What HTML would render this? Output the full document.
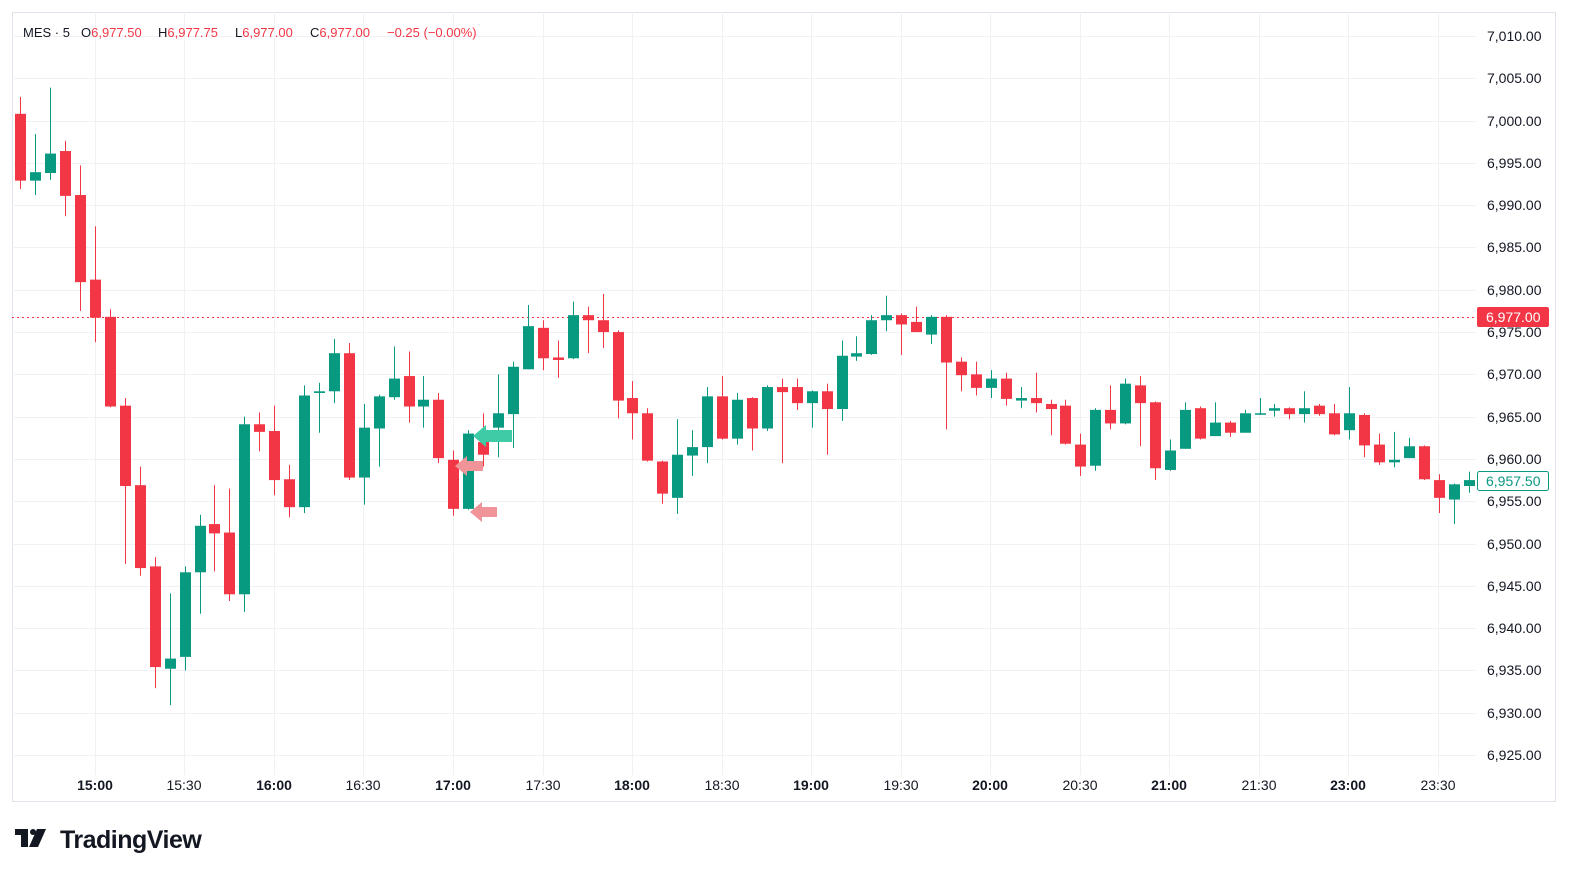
<!DOCTYPE html>
<html><head><meta charset="utf-8"><style>
html,body{margin:0;padding:0;background:#fff;}
body{width:1586px;height:886px;overflow:hidden;position:relative;font-family:"Liberation Sans",sans-serif;}
</style></head><body>
<svg id="s" width="1586" height="886" viewBox="0 0 1586 886" xmlns="http://www.w3.org/2000/svg" style="position:absolute;left:0;top:0">
<rect x="12.5" y="12.5" width="1543" height="789" fill="#fff" stroke="#e0e3eb"/>
<g id="grid" stroke="#f0f1f4" stroke-width="1"></g>
<line x1="12" y1="317.5" x2="1476" y2="317.5" stroke="#f23645" stroke-dasharray="2,3"/>
<g id="candles"></g>
<polygon points="473,436 486,425 486,430 512,430 512,442 486,442 486,447" fill="#3fcba6"/>
<polygon points="455,466 467,456 467,461 483,461 483,471 467,471 467,476" fill="#f09499"/>
<polygon points="470,512 482,502 482,507 497,507 497,517 482,517 482,522" fill="#f09499"/>
<g font-size="14" fill="#131722" id="plabels"></g>
<rect x="1477" y="307" width="72" height="20" rx="2" fill="#f23645"/>
<text x="1486" y="322" font-size="14" fill="#fff">6,977.00</text>
<rect x="1477.5" y="471.5" width="71" height="19" rx="2" fill="#fff" stroke="#089981"/>
<text x="1486" y="486" font-size="14" fill="#089981">6,957.50</text>
<g font-size="14" fill="#131722" text-anchor="middle">
<text x="95" y="790" font-weight="bold">15:00</text><text x="184" y="790">15:30</text>
<text x="274" y="790" font-weight="bold">16:00</text><text x="363" y="790">16:30</text>
<text x="453" y="790" font-weight="bold">17:00</text><text x="543" y="790">17:30</text>
<text x="632" y="790" font-weight="bold">18:00</text><text x="722" y="790">18:30</text>
<text x="811" y="790" font-weight="bold">19:00</text><text x="901" y="790">19:30</text>
<text x="990" y="790" font-weight="bold">20:00</text><text x="1080" y="790">20:30</text>
<text x="1169" y="790" font-weight="bold">21:00</text><text x="1259" y="790">21:30</text>
<text x="1348" y="790" font-weight="bold">23:00</text><text x="1438" y="790">23:30</text>
</g>
<g font-size="13" fill="#131722">
<text x="23" y="37">MES · 5</text>
<text x="81" y="37">O<tspan fill="#f23645">6,977.50</tspan></text>
<text x="158" y="37">H<tspan fill="#f23645">6,977.75</tspan></text>
<text x="235" y="37">L<tspan fill="#f23645">6,977.00</tspan></text>
<text x="310" y="37">C<tspan fill="#f23645">6,977.00</tspan></text>
<text x="387" y="37" fill="#f23645">−0.25 (−0.00%)</text>
</g>
<g fill="#131722">
<rect x="15" y="829" width="13" height="6"/><rect x="21" y="829" width="7" height="18"/>
<circle cx="33" cy="832" r="3"/><polygon points="37,829 46,829 38,847 29,847"/>
<text x="60" y="848" font-size="25" font-weight="bold" letter-spacing="-0.5">TradingView</text>
</g>
</svg>
<script>
var Y=function(p){return 36+(7010-p)*8.459;};
var NS="http://www.w3.org/2000/svg";
var g=document.getElementById('grid');
function el(par,tag,a){var e=document.createElementNS(NS,tag);for(var k in a)e.setAttribute(k,a[k]);par.appendChild(e);return e;}
for(var p=7010;p>=6925;p-=5){var y=Math.round(Y(p))+0.5;el(g,'line',{x1:12,y1:y,x2:1476,y2:y});
var t=el(document.getElementById('plabels'),'text',{x:1487,y:Math.round(Y(p))+5});t.textContent=p.toLocaleString('en-US',{minimumFractionDigits:2});}
[95,184,274,363,453,543,632,722,811,901,990,1080,1169,1259,1348,1438].forEach(function(x){el(g,'line',{x1:x+0.5,y1:12,x2:x+0.5,y2:775});});
var d=[[7000.8,6992.9,7002.8,6991.9],[6992.9,6993.9,6998.4,6991.2],[6993.8,6996.1,7003.9,6993],[6996.4,6991.1,6997.6,6988.7],[6991.2,6980.9,6994.7,6977.5],
[6981.2,6976.7,6987.5,6973.8],[6976.8,6966.2,6977.7,6966.1],[6966.3,6956.8,6967.2,6947.6],[6956.9,6947.1,6959.1,6946.2],[6947.3,6935.4,6948.4,6932.9],
[6935.2,6936.4,6944.1,6930.9],[6936.6,6946.6,6947.3,6935],[6946.6,6952.1,6953.4,6941.7],[6952.3,6951.2,6956.9,6946.7],[6951.3,6944,6956.5,6943.2],
[6944,6964.1,6965,6941.9],[6964.1,6963.2,6965.5,6960.9],[6963.3,6957.5,6966.3,6955.7],[6957.6,6954.3,6959.3,6953.1],[6954.3,6967.5,6968.7,6953.6],
[6967.8,6968,6969,6963.1],[6968,6972.5,6974.2,6966.6],[6972.5,6957.8,6973.7,6957.5],[6957.8,6963.7,6966.5,6954.6],[6963.6,6967.4,6967.6,6959.1],
[6967.3,6969.5,6973.3,6967],[6969.8,6966.2,6972.7,6964.3],[6966.2,6967,6969.8,6963.7],[6967,6960.1,6967.8,6959.5],[6959.9,6954.1,6961,6953.3],
[6954.1,6963,6963.4,6954],[6962,6960.5,6965.4,6959.1],[6963.7,6965.4,6970,6960.2],[6965.3,6970.9,6971.5,6961.3],[6970.6,6975.7,6978.2,6970.6],
[6975.5,6971.9,6976.4,6970.5],[6972,6971.7,6974,6969.6],[6971.9,6977,6978.6,6971.8],[6977,6976.4,6978,6972.5],[6976.4,6975,6979.5,6973.1],
[6975,6966.9,6975.2,6964.8],[6967.2,6965.4,6969.2,6962.3],[6965.4,6959.8,6966,6959.7],[6959.7,6955.9,6959.8,6954.7],[6955.4,6960.5,6964.7,6953.5],
[6960.4,6961.4,6963.4,6958],[6961.4,6967.4,6968.5,6959.5],[6967.4,6962.4,6969.8,6962.3],[6962.4,6967,6967.8,6961.7],[6967.2,6963.6,6967.3,6961],
[6963.6,6968.5,6968.7,6963.3],[6968.5,6967.9,6969.5,6959.5],[6968.5,6966.6,6969.5,6965.8],[6966.6,6968,6968.1,6963.7],[6968,6965.9,6968.9,6960.5],
[6965.9,6972.2,6974,6964.5],[6972.1,6972.5,6974.5,6971.6],[6972.4,6976.4,6977,6972.3],[6976.4,6977,6979.3,6975.1],[6977,6975.9,6977.2,6972.3],
[6976.2,6975,6978,6975],[6974.7,6976.8,6977,6973.6],[6976.8,6971.4,6977,6963.5],[6971.5,6969.9,6972,6968],[6970,6968.4,6971.5,6967.5],
[6968.4,6969.5,6970.5,6967.2],[6969.5,6967.1,6970.2,6966.3],[6966.9,6967.2,6968.5,6966],[6967.2,6966.6,6970.2,6965.5],[6966.5,6965.9,6967,6962.8],
[6966.3,6961.8,6967,6961.7],[6961.7,6959.1,6963,6958],[6959.2,6965.8,6966,6958.6],[6965.8,6964.2,6968.7,6963.5],[6964.2,6968.9,6969.5,6964.1],
[6968.7,6966.6,6969.8,6961.5],[6966.7,6958.9,6966.8,6957.5],[6958.7,6961,6962.3,6958.6],[6961.2,6965.8,6966.7,6961.2],[6966,6962.4,6966.2,6962.3],
[6962.7,6964.3,6966.7,6962.7],[6964.3,6963.1,6964.5,6962.6],[6963.1,6965.4,6965.8,6963.1],[6965.3,6965.4,6967.2,6965.2],[6965.7,6966,6966.5,6965],
[6966,6965.3,6966.1,6964.7],[6965.3,6966,6968,6964.3],[6966.3,6965.3,6966.5,6965.1],[6965.4,6962.9,6966.5,6962.8],[6963.4,6965.4,6968.5,6962.3],
[6965.2,6961.6,6965.4,6960.2],[6961.7,6959.6,6963,6959.3],[6959.6,6959.9,6963.2,6959],[6960.1,6961.5,6962.5,6960.1],[6961.5,6957.6,6961.6,6957.5],
[6957.5,6955.4,6958.2,6953.6],[6955.2,6957,6957.1,6952.3],[6956.8,6957.5,6958.5,6956]];
var c=document.getElementById('candles');
d.forEach(function(k,j){var x=Math.round(95+(j-5)*14.93);var o=k[0],cl=k[1],h=k[2],l=k[3];
var col=cl>=o?'#089981':'#f23645';
el(c,'rect',{x:x,y:Y(h),width:1,height:Math.max(1,Y(l)-Y(h)),fill:col});
var t=Y(Math.max(o,cl)),b=Y(Math.min(o,cl));
el(c,'rect',{x:x-5,y:t,width:11,height:Math.max(1.5,b-t),fill:col});});
</script>
</body></html>
